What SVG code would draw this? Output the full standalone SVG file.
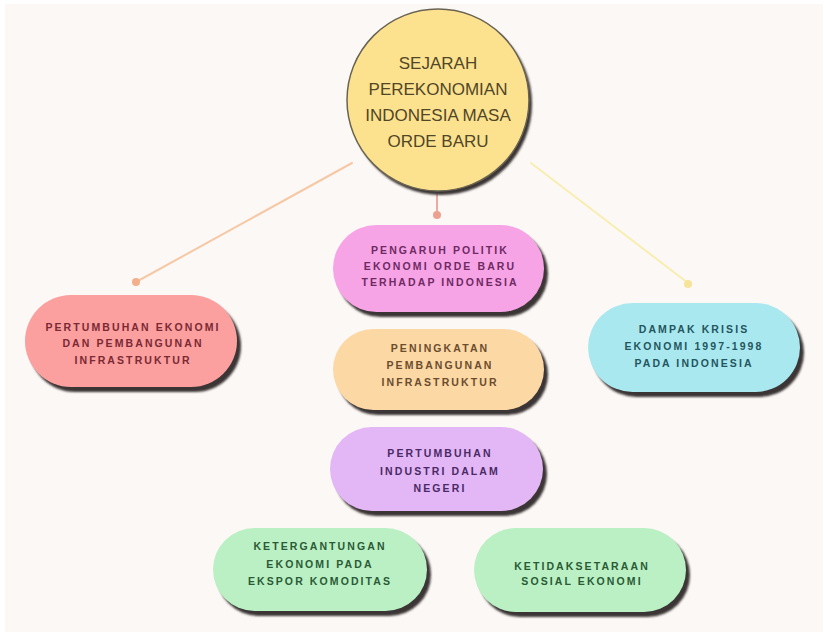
<svg xmlns="http://www.w3.org/2000/svg" width="828" height="637" viewBox="0 0 828 637">
<defs>
<style>
.pill-shadow{fill:#3b3636}
.lbl{font-family:"Liberation Sans",Arial,sans-serif;font-size:10.5px;font-weight:700;letter-spacing:2.1px;text-anchor:middle}
.title{font-family:"Liberation Sans",Arial,sans-serif;font-size:17px;fill:#514628;text-anchor:middle}
.conn{stroke-width:2;fill:none;stroke-linecap:round}
</style>
<filter id="soft" x="-10%" y="-10%" width="120%" height="130%"><feGaussianBlur stdDeviation="1"/></filter>
</defs>
<rect x="0" y="0" width="828" height="637" fill="#ffffff"/>
<rect x="5" y="4" width="818" height="628" fill="#fcf8f5"/>

<g id="connectors">
<line class="conn" x1="352" y1="163" x2="136" y2="282" stroke="#f6c8a6"/>
<circle cx="136" cy="282" r="4" fill="#f2b08c"/>
<line class="conn" x1="437" y1="194" x2="437" y2="214" stroke="#eeaaa0"/>
<circle cx="437" cy="215" r="4" fill="#eca090"/>
<line class="conn" x1="531" y1="163" x2="688" y2="283" stroke="#f9eeb2"/>
<circle cx="688" cy="284" r="4" fill="#f6e49a"/>
</g>

<g id="root">
<circle cx="441" cy="104" r="91" fill="#3b3636" filter="url(#soft)"/>
<circle cx="438" cy="100" r="91" fill="#fce28e" stroke="#6a6352" stroke-width="1.5"/>
<text class="title" x="438" y="69">SEJARAH</text>
<text class="title" x="438" y="95">PEREKONOMIAN</text>
<text class="title" x="438" y="121">INDONESIA MASA</text>
<text class="title" x="438" y="147">ORDE BARU</text>
</g>

<g id="n-pertumbuhan-ekonomi">
<rect class="pill-shadow" x="29" y="300" width="212" height="92" rx="46" filter="url(#soft)"/>
<rect x="25" y="295" width="212" height="92" rx="46" fill="#fc9f9f"/>
<g class="lbl" fill="#7a2a33">
<text x="133" y="331">PERTUMBUHAN EKONOMI</text>
<text x="133" y="347">DAN PEMBANGUNAN</text>
<text x="133" y="364">INFRASTRUKTUR</text>
</g>
</g>

<g id="n-pengaruh">
<rect class="pill-shadow" x="337" y="230" width="211" height="87" rx="43.5" filter="url(#soft)"/>
<rect x="333" y="225" width="211" height="87" rx="43.5" fill="#f7a4e6"/>
<g class="lbl" fill="#6e2a63">
<text x="440" y="254">PENGARUH POLITIK</text>
<text x="440" y="270">EKONOMI ORDE BARU</text>
<text x="440" y="286">TERHADAP INDONESIA</text>
</g>
</g>

<g id="n-peningkatan">
<rect class="pill-shadow" x="337" y="334" width="211" height="81" rx="40.5" filter="url(#soft)"/>
<rect x="333" y="329" width="211" height="81" rx="40.5" fill="#fcd8a5"/>
<g class="lbl" fill="#6b4d2e">
<text x="440" y="352">PENINGKATAN</text>
<text x="440" y="369">PEMBANGUNAN</text>
<text x="440" y="386">INFRASTRUKTUR</text>
</g>
</g>

<g id="n-industri">
<rect class="pill-shadow" x="334" y="432" width="213" height="84" rx="42" filter="url(#soft)"/>
<rect x="330" y="427" width="213" height="84" rx="42" fill="#e3b6f5"/>
<g class="lbl" fill="#4a2a66">
<text x="440" y="457">PERTUMBUHAN</text>
<text x="440" y="475">INDUSTRI DALAM</text>
<text x="440" y="492">NEGERI</text>
</g>
</g>

<g id="n-dampak">
<rect class="pill-shadow" x="592" y="308" width="212" height="89" rx="44.5" filter="url(#soft)"/>
<rect x="588" y="303" width="212" height="89" rx="44.5" fill="#aae8ef"/>
<g class="lbl" fill="#23565e">
<text x="694" y="333">DAMPAK KRISIS</text>
<text x="694" y="350">EKONOMI 1997-1998</text>
<text x="694" y="367">PADA INDONESIA</text>
</g>
</g>

<g id="n-ketergantungan">
<rect class="pill-shadow" x="217" y="533" width="214" height="83" rx="41.5" filter="url(#soft)"/>
<rect x="213" y="528" width="214" height="83" rx="41.5" fill="#baf0c3"/>
<g class="lbl" fill="#2a5a36">
<text x="320" y="550">KETERGANTUNGAN</text>
<text x="320" y="568">EKONOMI PADA</text>
<text x="320" y="585">EKSPOR KOMODITAS</text>
</g>
</g>

<g id="n-ketidaksetaraan">
<rect class="pill-shadow" x="478" y="533" width="212" height="84" rx="42" filter="url(#soft)"/>
<rect x="474" y="528" width="212" height="84" rx="42" fill="#baf0c3"/>
<g class="lbl" fill="#2a5a36">
<text x="582" y="570">KETIDAKSETARAAN</text>
<text x="582" y="585">SOSIAL EKONOMI</text>
</g>
</g>
</svg>
